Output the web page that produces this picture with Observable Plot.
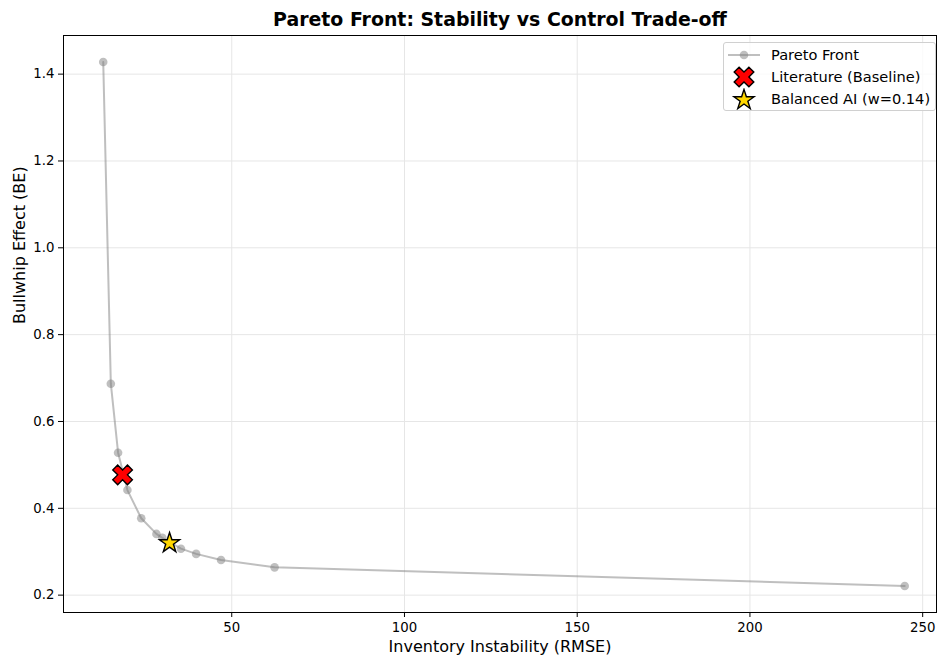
<!DOCTYPE html>
<html>
<head>
<meta charset="utf-8">
<script src="https://cdn.jsdelivr.net/npm/d3@7"></script>
<script src="https://cdn.jsdelivr.net/npm/@observablehq/plot@0.6"></script>
<style>
  html, body { margin: 0; padding: 0; background: #fff; }
  body { width: 937px; height: 657px; position: relative; overflow: hidden; font-family: "DejaVu Sans", sans-serif; }
  #title { position: absolute; left: 63px; width: 874px; top: 8px; text-align: center; font-weight: bold; font-size: 18.9px; color: #000; }
  #chart { position: absolute; left: 0; top: 34px; }
  #legend { position: absolute; left: 723px; top: 42px; width: 213px; height: 69px; border: 1px solid #d0d0d0; border-radius: 3px; background: rgba(255,255,255,0.8); box-sizing: border-box; }
  .item { position: absolute; left: 0; height: 22px; width: 212px; }
  .item svg { position: absolute; left: 0; top: 0; }
  .item span { position: absolute; left: 47px; top: 2px; font-size: 14.6px; color: #000; white-space: nowrap; }
</style>
</head>
<body>
<div id="title">Pareto Front: Stability vs Control Trade-off</div>
<div id="chart"></div>
<div id="legend"></div>
<script>
// ---- data ----
const paretoX = [12.8, 15.0, 17.1, 19.8, 23.8, 28.2, 29.9, 35.3, 39.7, 46.9, 62.4, 244.8];
const paretoY = [1.428, 0.687, 0.528, 0.442, 0.377, 0.341, 0.332, 0.307, 0.295, 0.281, 0.264, 0.221];
const literatureX = [18.4];
const literatureY = [0.477];
const balancedX = [32.0];
const balancedY = [0.320];
const xTicks = [50, 100, 150, 200, 250];
const yTicks = [0.2, 0.4, 0.6, 0.8, 1.0, 1.2, 1.4];
const seriesNames = ["Pareto Front", "Literature (Baseline)", "Balanced AI (w=0.14)"];
const xLabel = "Inventory Instability (RMSE)";
const yLabel = "Bullwhip Effect (BE)";

const pareto = paretoX.map((x, i) => ({x, y: paretoY[i]}));
const literature = literatureX.map((x, i) => ({x, y: literatureY[i]}));
const balanced = balancedX.map((x, i) => ({x, y: balancedY[i]}));

// filled "X" (rotated plus) like matplotlib's 'X' marker
const symbolXFilled = {
  draw(ctx, size) {
    const R = Math.sqrt(size / Math.PI);
    const pts = [[-1,-3],[1,-3],[1,-1],[3,-1],[3,1],[1,1],[1,3],[-1,3],[-1,1],[-3,1],[-3,-1],[-1,-1]];
    const c = Math.SQRT1_2;
    pts.forEach(([a, b], i) => {
      const x = (a - b) * c / 3 * R, y = (a + b) * c / 3 * R;
      if (i) ctx.lineTo(x, y); else ctx.moveTo(x, y);
    });
    ctx.closePath();
  }
};
// 5-point star with outer radius r
const symbolStar5 = {
  draw(ctx, size) {
    const R = Math.sqrt(size / Math.PI), r = R * 0.381966;
    for (let i = 0; i < 10; i++) {
      const a = -Math.PI / 2 + i * Math.PI / 5;
      const rad = i % 2 ? r : R;
      const x = rad * Math.cos(a), y = rad * Math.sin(a);
      if (i) ctx.lineTo(x, y); else ctx.moveTo(x, y);
    }
    ctx.closePath();
  }
};

const chart = Plot.plot({
  width: 937,
  height: 623,
  marginTop: 1,
  marginBottom: 45,
  marginLeft: 63,
  marginRight: 1,
  style: {fontFamily: "DejaVu Sans, sans-serif", fontSize: "13.3px", color: "#000", background: "transparent"},
  x: {domain: [1.3, 254]},
  y: {domain: [0.160, 1.489]},
  marks: [
    Plot.gridX(xTicks, {stroke: "#e6e6e6", strokeOpacity: 1, strokeWidth: 1}),
    Plot.gridY(yTicks, {stroke: "#e6e6e6", strokeOpacity: 1, strokeWidth: 1}),
    Plot.line(pareto, {x: "x", y: "y", stroke: "gray", strokeOpacity: 0.5, strokeWidth: 2}),
    Plot.dot(pareto, {x: "x", y: "y", r: 4.3, fill: "gray", fillOpacity: 0.5, stroke: "none"}),
    Plot.dot(literature, {x: "x", y: "y", symbol: symbolXFilled, r: 10.4, fill: "red", stroke: "black", strokeWidth: 1.4}),
    Plot.dot(balanced, {x: "x", y: "y", symbol: symbolStar5, r: 10.6, fill: "gold", stroke: "black", strokeWidth: 1.4}),
    Plot.frame({stroke: "#000", strokeWidth: 1}),
    Plot.axisX(xTicks, {tickSize: 5, tickPadding: 5, fontSize: 13.3, label: null}),
    Plot.axisY(yTicks, {tickSize: 5, tickPadding: 4, fontSize: 13.3, label: null, tickFormat: d => d.toFixed(1)}),
    Plot.text([xLabel], {frameAnchor: "bottom", dy: 39, fontSize: 16, fill: "#000"}),
    Plot.text([yLabel], {frameAnchor: "left", dx: -44, rotate: -90, fontSize: 16, fill: "#000"})
  ]
});
document.getElementById("chart").appendChild(chart);

// legend
const legend = document.getElementById("legend");
const ns = "http://www.w3.org/2000/svg";
function pathOf(sym, r) {
  const p = d3.path();
  sym.draw(p, Math.PI * r * r);
  return p.toString();
}
seriesNames.forEach((name, i) => {
  const item = document.createElement("div");
  item.className = "item";
  item.style.top = (1 + i * 22) + "px";
  const svg = document.createElementNS(ns, "svg");
  svg.setAttribute("width", 44); svg.setAttribute("height", 22);
  let inner = "";
  if (i === 0) {
    inner = `<line x1="4" x2="36" y1="11" y2="11" stroke="gray" stroke-opacity="0.5" stroke-width="2"/>
             <circle cx="20" cy="11" r="4.3" fill="gray" fill-opacity="0.5"/>`;
  } else if (i === 1) {
    inner = `<path transform="translate(20,11)" d="${pathOf(symbolXFilled, 10.4)}" fill="red" stroke="black" stroke-width="1.4"/>`;
  } else {
    inner = `<path transform="translate(20,12)" d="${pathOf(symbolStar5, 10.6)}" fill="gold" stroke="black" stroke-width="1.4"/>`;
  }
  svg.innerHTML = inner;
  const span = document.createElement("span");
  span.textContent = name;
  item.appendChild(svg);
  item.appendChild(span);
  legend.appendChild(item);
});
</script>
</body>
</html>
